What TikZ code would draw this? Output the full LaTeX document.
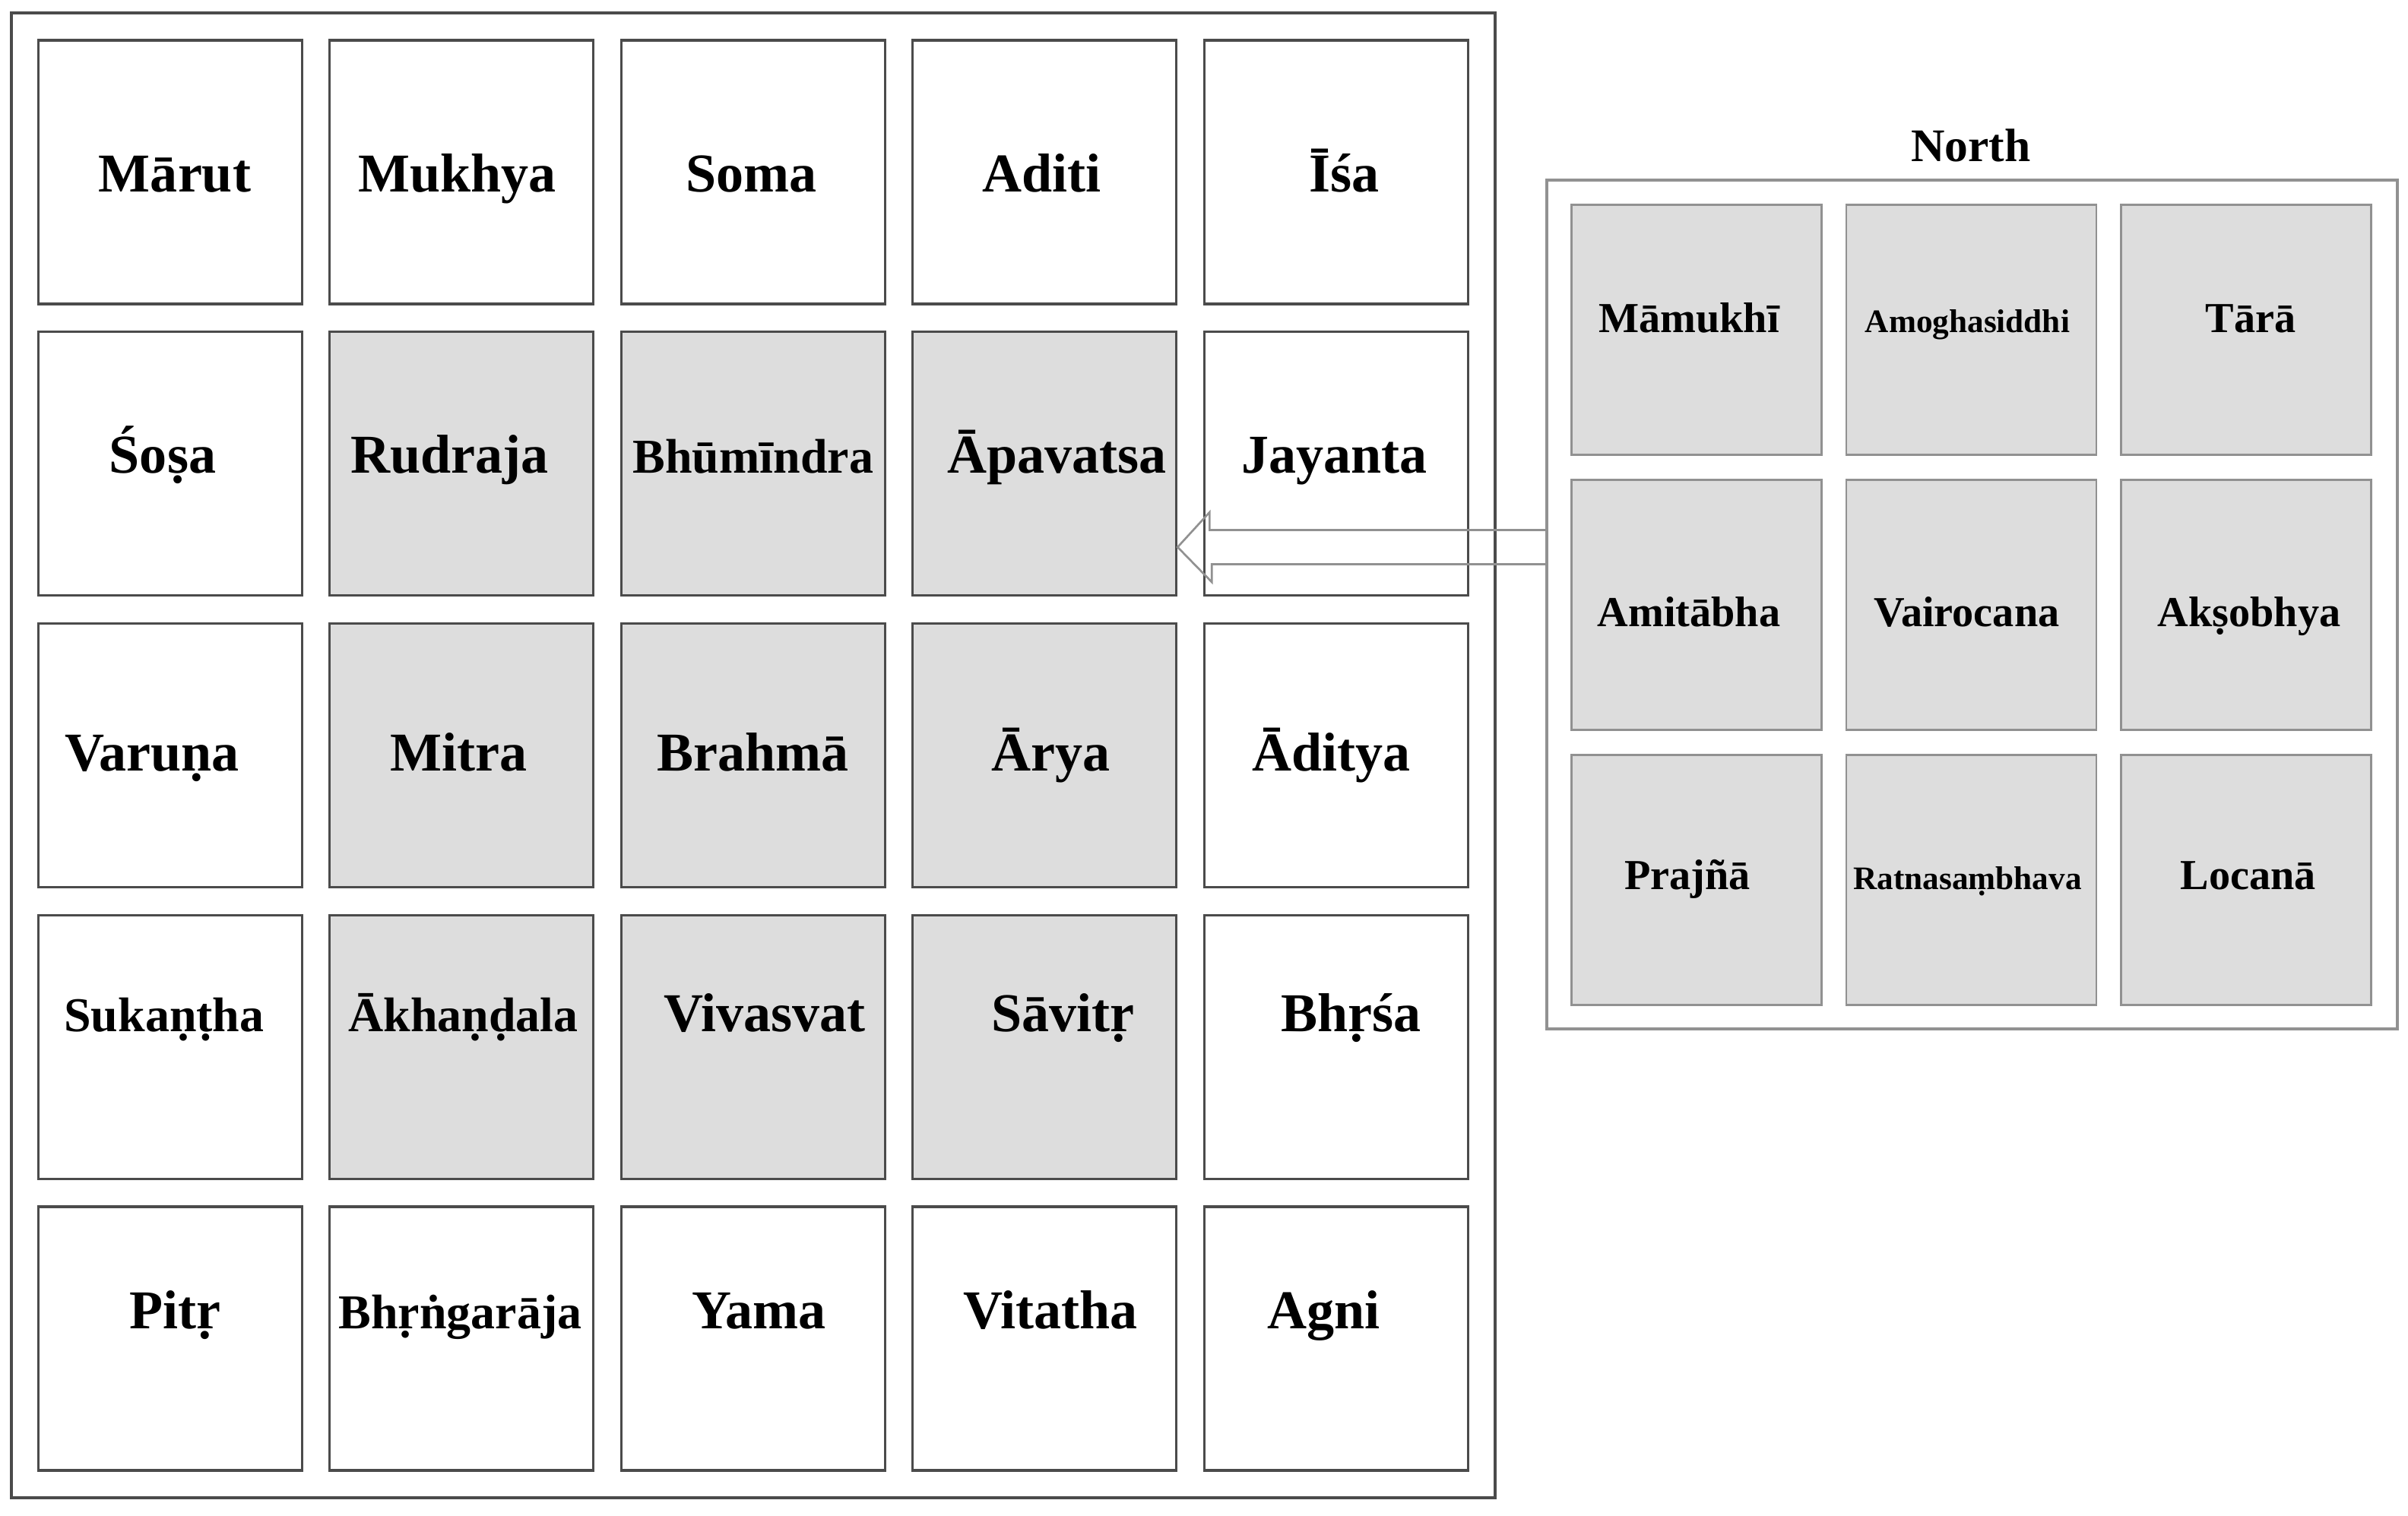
\documentclass[tikz,border=0pt]{standalone}
\usepackage{fontspec}
\setmainfont{Liberation Serif}
\usepackage{tikz}
\usetikzlibrary{calc}
\definecolor{fondgris}{RGB}{221,221,221}
\definecolor{traitfonce}{RGB}{75,75,75}
\definecolor{traitclair}{RGB}{145,145,145}

\begin{document}
\begin{tikzpicture}[x=1cm,y=-1cm,
   case/.style={draw=traitfonce,line width=0.9pt,minimum size=3.47cm,inner sep=0pt},
   petitecase/.style={draw=traitclair,line width=0.8pt,fill=fondgris,minimum size=3.29cm,inner sep=0pt},
   cadre/.style={draw=traitfonce,line width=0.9pt,inner sep=0pt},
   grand/.style={anchor=base,inner sep=0pt,font=\bfseries\fontsize{20.5}{24}\selectfont},
   petit/.style={anchor=base,inner sep=0pt,font=\bfseries\fontsize{18.2}{22}\selectfont},
   moyen/.style={anchor=base,inner sep=0pt,font=\bfseries\fontsize{16}{19}\selectfont},
   menu/.style={anchor=base,inner sep=0pt,font=\bfseries\fontsize{12.3}{15}\selectfont},
   fleche/.style={draw=traitclair,line width=0.75pt,line join=miter}]
\useasboundingbox (0,0) rectangle (31.68,19.95);
\node[cadre,minimum width=19.52cm,minimum height=19.54cm] (plan) at (9.91,9.94) {};
\foreach \r/\b/\liste in {
   1/0.26/{Mārut/0.06/grand,Mukhya/-0.06/grand,Soma/-0.02/grand,Aditi/-0.04/grand,Īśa/0.11/grand},
   2/0.12/{Śoṣa/-0.10/grand,Rudraja/-0.16/grand,Bhūmīndra/0/petit,Āpavatsa/0.16/grand,Jayanta/-0.02/grand},
   3/0.20/{Varuṇa/-0.24/grand,Mitra/-0.04/grand,Brahmā/0/grand,Ārya/0.08/grand,Āditya/-0.06/grand},
   4/-0.20/{Sukaṇṭha/-0.08/petit,Ākhaṇḍala/0.02/petit,Vivasvat/0.15/grand,Sāvitṛ/0.24/grand,Bhṛśa/0.20/grand},
   5/-0.13/{Pitṛ/0.06/grand,Bhṛṅgarāja/-0.02/petit,Yama/0.08/grand,Vitatha/0.08/grand,Agni/-0.16/grand}}
  \foreach \nm/\dx/\fonte [count=\c] in \liste {
    \pgfmathtruncatemacro\dedans{(\r>1)&&(\r<5)&&(\c>1)&&(\c<5)}
    \ifnum\dedans=1 \def\fond{fondgris}\else\def\fond{white}\fi
    \node[case,fill=\fond] (c\r\c) at ({2.24+3.834*(\c-1)},{2.265+3.8375*(\r-1)}) {};
    \node[\fonte] (t\r\c) at ($(c\r\c)+(\dx,\b)$) {\nm};
  }
\node[moyen,font=\bfseries\fontsize{17.5}{21}\selectfont] (nord) at (25.93,2.13) {North};
\node[cadre,draw=traitclair,minimum width=11.19cm,minimum height=11.17cm] (panneau) at (25.945,7.955) {};
\foreach \r/\b/\liste in {
   1/0.04/{Māmukhī/-0.10/moyen,Amoghasiddhi/-0.05/menu,Tārā/0.06/moyen},
   2/0.28/{Amitābha/-0.10/moyen,Vairocana/-0.06/moyen,Akṣobhya/0.04/moyen},
   3/0.12/{Prajñā/-0.12/moyen,Ratnasaṃbhava/-0.05/menu,Locanā/0.03/moyen}}
  \foreach \nm/\dx/\fonte [count=\c] in \liste {
    \node[petitecase] (n\r\c) at ({22.32+3.615*(\c-1)},{4.34+3.62*(\r-1)}) {};
    \node[\fonte] (m\r\c) at ($(n\r\c)+(\dx,\b)$) {\nm};
  }
\coordinate (pointe) at (c24.east |- 0,7.20);
\draw[fleche] (panneau.west |- pointe) ++(0,-0.225) -- ++(-4.42,0) -- ++(0,-0.235) -- (pointe)
   -- ++(0.45,0.46) -- ++(0,-0.235) -- ++(4.42,0);
\end{tikzpicture}
\end{document}
